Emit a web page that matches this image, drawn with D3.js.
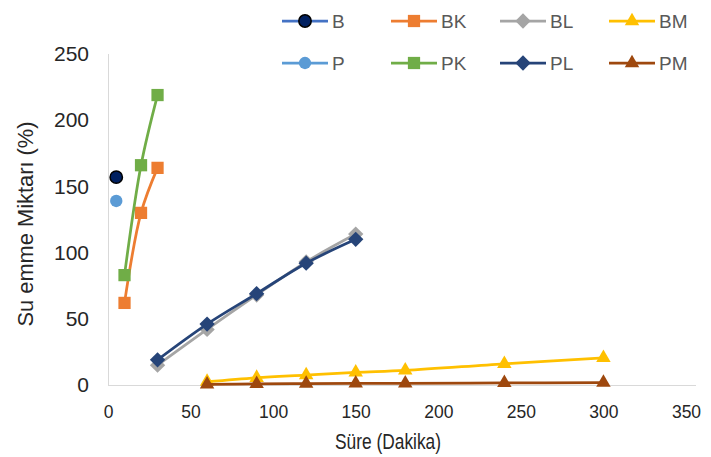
<!DOCTYPE html>
<html>
<head>
<meta charset="utf-8">
<script src="https://cdn.jsdelivr.net/npm/d3@7"></script>
<style>
  body { margin: 0; background: #fff; }
  text { font-family: "Liberation Sans", Arial, sans-serif; }
</style>
</head>
<body>
<div id="chart"></div>
<script>
// series names in legend order
var seriesNames = ["B", "BK", "BL", "BM", "P", "PK", "PL", "PM"];
var colors = ["#4472C4", "#ED7D31", "#A5A5A5", "#FFC000", "#5B9BD5", "#70AD47", "#264478", "#9E480E"];
var markers = ["circle", "square", "diamond", "triangle", "circle", "square", "diamond", "triangle"];

var B_x = [5], B_y = [157];
var P_x = [5], P_y = [139];
var BK_x = [10, 20, 30], BK_y = [62, 130, 164];
var PK_x = [10, 20, 30], PK_y = [83, 166, 219];
var BL_x = [30, 60, 90, 120, 150], BL_y = [15, 42, 68, 93, 114];
var PL_x = [30, 60, 90, 120, 150], PL_y = [19, 46, 69, 92, 110];
var BM_x = [60, 90, 120, 150, 180, 240, 300], BM_y = [2.5, 5.5, 7.5, 9.5, 11, 16, 20.5];
var PM_x = [60, 90, 120, 150, 180, 240, 300], PM_y = [0.5, 0.8, 1, 1.2, 1.3, 1.6, 1.8];

var xTicks = [0, 50, 100, 150, 200, 250, 300, 350];
var yTicks = [0, 50, 100, 150, 200, 250];

var series = {
    B: [B_x, B_y], BK: [BK_x, BK_y], BL: [BL_x, BL_y], BM: [BM_x, BM_y],
    P: [P_x, P_y], PK: [PK_x, PK_y], PL: [PL_x, PL_y], PM: [PM_x, PM_y]
};
// draw order so PL sits over BL, PM over BM
var drawOrder = ["BL", "PL", "BM", "PM", "BK", "PK", "B", "P"];

var W = 711, H = 457;
var svg = d3.select("#chart").append("svg").attr("width", W).attr("height", H);

var x = d3.scaleLinear().domain([0, 350]).range([108, 686]);
var y = d3.scaleLinear().domain([0, 250]).range([385, 54]);

// axes
var xAxis = svg.append("g").attr("transform", "translate(0,385)")
    .call(d3.axisBottom(x).tickValues(xTicks).tickSize(0).tickPadding(21));
xAxis.select(".domain").attr("d", "M108,0.5H696").attr("stroke", "#d9d9d9").attr("stroke-width", 1);
xAxis.selectAll("text").attr("font-size", 17.5).attr("fill", "#262626");

var yAxis = svg.append("g").attr("transform", "translate(108,0)")
    .call(d3.axisLeft(y).tickValues(yTicks).tickSize(0).tickPadding(19));
yAxis.select(".domain").attr("d", "M0.5,54V385").attr("stroke", "#d9d9d9").attr("stroke-width", 1);
yAxis.selectAll("text").attr("font-size", 21).attr("fill", "#262626");

svg.append("text").attr("x", 388).attr("y", 449).attr("text-anchor", "middle")
    .attr("font-size", 22).attr("fill", "#262626")
    .attr("textLength", 106).attr("lengthAdjust", "spacingAndGlyphs")
    .text("Süre (Dakika)");
svg.append("text").attr("transform", "translate(33,224) rotate(-90)").attr("text-anchor", "middle")
    .attr("font-size", 22).attr("fill", "#262626")
    .attr("textLength", 205).attr("lengthAdjust", "spacingAndGlyphs")
    .text("Su emme Miktarı (%)");

function markerPath(type) {
    if (type === "circle") return d3.symbol().type(d3.symbolCircle).size(120)();
    if (type === "square") return d3.symbol().type(d3.symbolSquare).size(150)();
    if (type === "diamond") return d3.symbol().type(d3.symbolDiamond2).size(150)();
    return d3.symbol().type(d3.symbolTriangle2).size(150)();
}

var line = d3.line().x(function (d) { return x(d[0]); }).y(function (d) { return y(d[1]); })
    .curve(d3.curveCatmullRom.alpha(0.5));

drawOrder.forEach(function (name) {
    var i = seriesNames.indexOf(name);
    var pts = series[name][0].map(function (v, k) { return [v, series[name][1][k]]; });
    var g = svg.append("g");
    if (pts.length > 1) {
        g.append("path").datum(pts).attr("d", line).attr("fill", "none")
            .attr("stroke", colors[i]).attr("stroke-width", 2.75);
    }
    g.selectAll("path.m").data(pts).enter().append("path").attr("class", "m")
        .attr("d", markerPath(markers[i]))
        .attr("transform", function (d) { return "translate(" + x(d[0]) + "," + y(d[1]) + ")"; })
        .attr("fill", name === "B" ? "#002060" : colors[i])
        .attr("stroke", name === "B" ? "#000" : "none")
        .attr("stroke-width", 1.5);
});

// legend
var legCols = [282, 391, 500, 609], legRows = [21, 63];
seriesNames.forEach(function (name, i) {
    var lg = svg.append("g").attr("transform",
        "translate(" + legCols[i % 4] + "," + legRows[Math.floor(i / 4)] + ")");
    lg.append("line").attr("x1", 0).attr("x2", 46).attr("y1", 0).attr("y2", 0)
        .attr("stroke", colors[i]).attr("stroke-width", 2.75);
    lg.append("path").attr("d", markerPath(markers[i])).attr("transform", "translate(23,0)")
        .attr("fill", name === "B" ? "#002060" : colors[i])
        .attr("stroke", name === "B" ? "#000" : "none").attr("stroke-width", 1.5);
    lg.append("text").attr("x", 50).attr("y", 7).attr("font-size", 19)
        .attr("fill", "#595959").text(name);
});
</script>
</body>
</html>
